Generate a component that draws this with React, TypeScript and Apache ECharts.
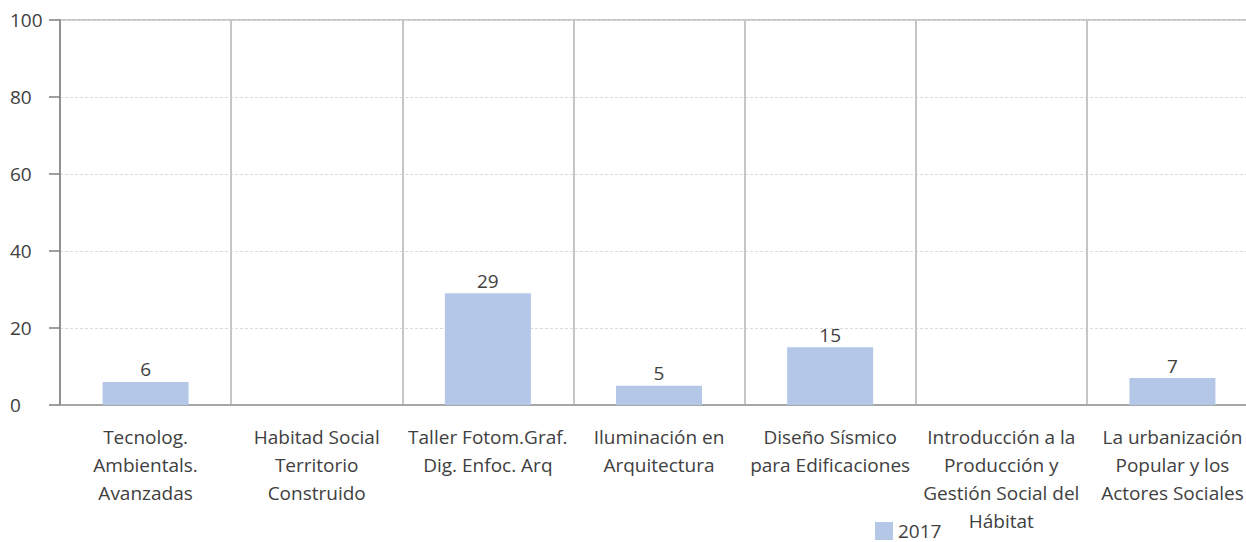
import React, { useEffect, useRef } from "react";
import * as echarts from "echarts";

const categories = [
  "Tecnolog.\nAmbientals.\nAvanzadas",
  "Habitad Social\nTerritorio\nConstruido",
  "Taller Fotom.Graf.\nDig. Enfoc. Arq",
  "Iluminación en\nArquitectura",
  "Diseño Sísmico\npara Edificaciones",
  "Introducción a la\nProducción y\nGestión Social del\nHábitat",
  "La urbanización\nPopular y los\nActores Sociales",
];
const seriesName = "2017";
const values = [6, 0, 29, 5, 15, 0, 7];
const yMin = 0;
const yMax = 100;
const yInterval = 20;

const FONT = "Open Sans";

export default function App() {
  const ref = useRef<HTMLDivElement>(null);
  useEffect(() => {
    document.body.style.margin = "0";
    const chart = echarts.init(ref.current!, null, { renderer: "svg" });
    chart.setOption({
      animation: false,
      textStyle: { fontFamily: FONT },
      grid: {
        left: 60,
        top: 20,
        width: 1198,
        height: 385,
        show: true,
        borderColor: "#c6c6c6",
        borderWidth: 2,
        containLabel: false,
      },
      legend: {
        left: 875,
        top: 521,
        padding: 0,
        itemWidth: 18,
        itemHeight: 18,
        itemGap: 5,
        textStyle: { fontFamily: FONT, fontSize: 19, lineHeight: 20, color: "#404040" },
        data: [{ name: seriesName, icon: "rect" }],
      },
      xAxis: {
        type: "category",
        data: categories,
        axisLine: { show: true, lineStyle: { color: "#a6a6a6", width: 2 } },
        axisTick: { show: false },
        splitLine: { show: true, lineStyle: { color: "#c6c6c6", width: 2 } },
        axisLabel: {
          interval: 0,
          margin: 18,
          fontFamily: FONT,
          fontSize: 19,
          lineHeight: 28,
          color: "#404040",
        },
      },
      yAxis: {
        type: "value",
        min: yMin,
        max: yMax,
        interval: yInterval,
        axisLine: { show: true, lineStyle: { color: "#7f7f7f", width: 1.5 } },
        axisTick: { show: true, length: 11, lineStyle: { color: "#7f7f7f", width: 1.5 } },
        splitLine: { show: true, lineStyle: { color: "#d9d9d9", width: 1, type: [3, 2] } },
        axisLabel: {
          align: "left",
          margin: 50,
          fontFamily: FONT,
          fontSize: 19,
          color: "#404040",
        },
      },
      series: [
        {
          name: seriesName,
          type: "bar",
          data: values,
          barWidth: 86,
          itemStyle: { color: "#b4c7e7" },
          label: {
            show: true,
            position: "top",
            distance: 3,
            fontFamily: FONT,
            fontSize: 19,
            color: "#404040",
            formatter: (p: any) => (p.value ? String(p.value) : ""),
          },
        },
      ],
    });
    return () => chart.dispose();
  }, []);
  return (
    <div style={{ width: 1246, height: 542, overflow: "hidden" }}>
      <div ref={ref} style={{ width: 1280, height: 542 }} />
    </div>
  );
}
